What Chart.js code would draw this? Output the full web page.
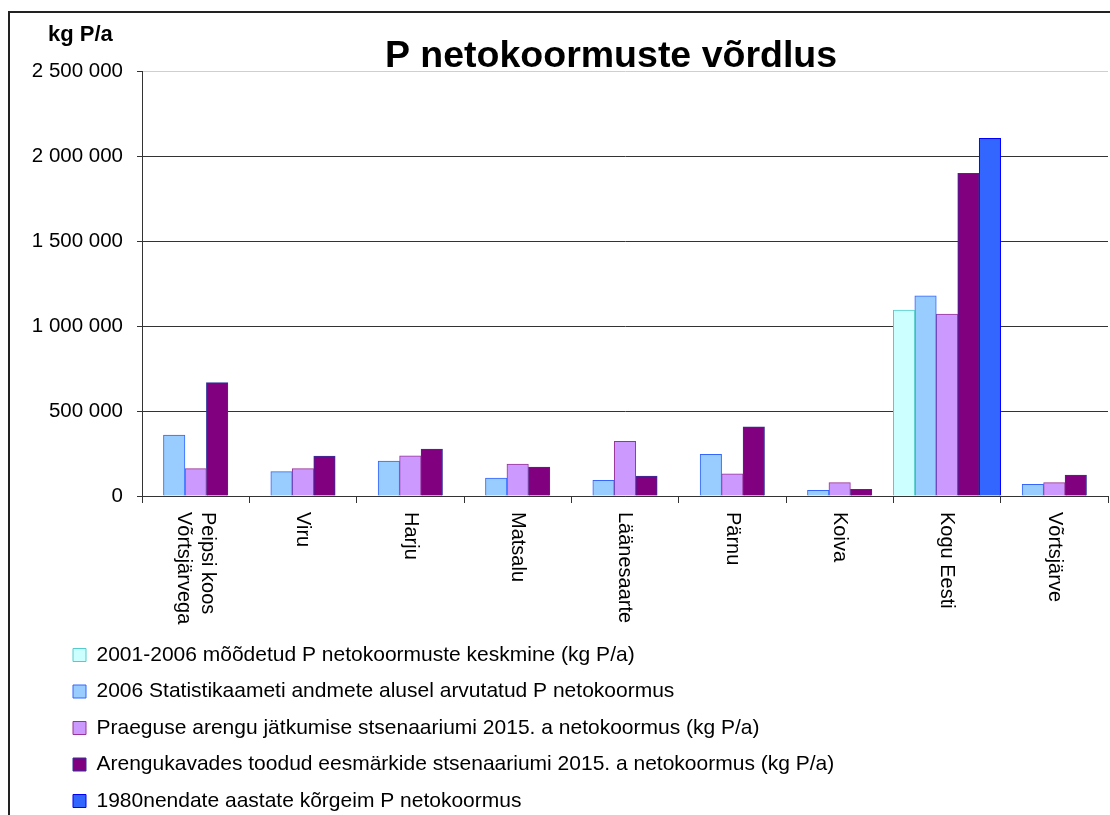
<!DOCTYPE html>
<html>
<head>
<meta charset="utf-8">
<script src="https://cdn.jsdelivr.net/npm/chart.js@4.4.1/dist/chart.umd.min.js"></script>
<style>
  html, body { margin: 0; padding: 0; background: #ffffff; }
  #wrap { width: 1110px; height: 815px; }
</style>
</head>
<body>
<div id="wrap"><canvas id="c" width="1110" height="815"></canvas></div>
<script>
// ---- data ----
const categories = [
  ["Peipsi koos", "Võrtsjärvega"], "Viru", "Harju", "Matsalu", "Läänesaarte",
  "Pärnu", "Koiva", "Kogu Eesti", "Võrtsjärve"
];
const seriesNames = [
  "2001-2006 mõõdetud P netokoormuste keskmine (kg P/a)",
  "2006 Statistikaameti andmete alusel arvutatud P netokoormus",
  "Praeguse arengu jätkumise stsenaariumi 2015. a netokoormus (kg P/a)",
  "Arengukavades toodud eesmärkide stsenaariumi 2015. a netokoormus (kg P/a)",
  "1980nendate aastate kõrgeim P netokoormus"
];
const measured2001to2006 = [null, null, null, null, null, null, null, 1094000, null];
const stat2006 = [359000, 143500, 206000, 106000, 92000, 245000, 33500, 1178000, 68600];
const current2015 = [161000, 161000, 237000, 188000, 322000, 131000, 78400, 1070600, 78400];
const goals2015 = [667000, 235500, 276500, 170600, 117600, 407600, 39400, 1898000, 123500];
const peak1980s = [null, null, null, null, null, null, null, 2104000, null];
const yTickValues = [0, 500000, 1000000, 1500000, 2000000, 2500000];
const titleText = "P netokoormuste võrdlus";
const unitText = "kg P/a";

// ---- styles ----
const FONT = '"Liberation Sans", Arial, Helvetica, sans-serif';
Chart.defaults.font.family = FONT;
Chart.defaults.color = '#000';

const fills = ['#CCFFFF', '#99CCFF', '#CC99FF', '#800080', '#3366FF'];
const borders = ['#55CCCC', '#3366FF', '#993399', '#333399', '#0000FF'];
const seriesData = [measured2001to2006, stat2006, current2015, goals2015, peak1980s];

function fmt(v) {
  return String(v).replace(/\B(?=(\d{3})+(?!\d))/g, ' ');
}

const LEGEND_SHIFT = 37.5;

const decorPlugin = {
  id: 'decor',
  afterLayout(chart) {
    if (chart.legend) {
      chart.legend.left += LEGEND_SHIFT;
    }
  },
  afterDraw(chart) {
    const ctx = chart.ctx;
    const xs = chart.scales.x;
    ctx.save();
    // frame
    ctx.strokeStyle = '#222';
    ctx.lineWidth = 2;
    ctx.beginPath();
    ctx.moveTo(9, 900);
    ctx.lineTo(9, 12);
    ctx.lineTo(1200, 12);
    ctx.stroke();
    // title
    ctx.fillStyle = '#000';
    ctx.font = 'bold 37.5px ' + FONT;
    ctx.textAlign = 'center';
    ctx.textBaseline = 'alphabetic';
    ctx.fillText(titleText, 611, 67);
    // unit label
    ctx.font = 'bold 22px ' + FONT;
    ctx.textAlign = 'left';
    ctx.fillText(unitText, 48, 41);
    // category labels, rotated clockwise
    ctx.font = '20px ' + FONT;
    ctx.textAlign = 'left';
    ctx.textBaseline = 'middle';
    const lh = 24;
    categories.forEach((lab, i) => {
      const lines = Array.isArray(lab) ? lab : [lab];
      const cx = xs.getPixelForValue(i);
      ctx.save();
      ctx.translate(cx, 512);
      ctx.rotate(Math.PI / 2);
      lines.forEach((ln, j) => {
        const off = (j - (lines.length - 1) / 2) * lh;
        ctx.fillText(ln, 0, off);
      });
      ctx.restore();
    });
    ctx.restore();
  }
};

new Chart(document.getElementById('c'), {
  type: 'bar',
  data: {
    labels: categories.map(c => Array.isArray(c) ? c.join(' ') : c),
    datasets: seriesData.map((d, i) => ({
      label: seriesNames[i],
      data: d,
      backgroundColor: fills[i],
      borderColor: borders[i],
      borderWidth: 1,
      categoryPercentage: 1.0,
      barPercentage: 1.0
    }))
  },
  options: {
    responsive: false,
    devicePixelRatio: 1,
    animation: false,
    layout: { padding: { top: 71, left: 20, right: 2, bottom: -6.5 } },
    plugins: {
      title: { display: false },
      tooltip: { enabled: false },
      legend: {
        position: 'bottom',
        align: 'start',
        labels: {
          boxWidth: 13,
          boxHeight: 13,
          padding: 15.5,
          color: '#000',
          font: { size: 21, family: FONT }
        }
      }
    },
    scales: {
      x: {
        offset: true,
        grid: {
          offset: true,
          drawOnChartArea: false,
          drawTicks: true,
          tickLength: 7,
          color: '#333',
          tickColor: '#333'
        },
        border: { display: true, color: '#333', width: 1 },
        ticks: { display: false },
        afterFit(s) { s.height = 133; }
      },
      y: {
        min: 0,
        max: 2500000,
        afterBuildTicks(s) { s.ticks = yTickValues.map(v => ({ value: v })); },
        ticks: {
          padding: 14,
          color: '#000',
          font: { size: 20.5, family: FONT },
          callback: (v) => fmt(v)
        },
        grid: {
          drawTicks: true,
          tickLength: 5,
          color: (c) => (c.tick && c.tick.value === 2500000) ? '#cfcfcf' : '#333',
          tickColor: '#333',
          lineWidth: 1
        },
        border: { display: true, color: '#333', width: 1 },
        afterFit(s) { s.width = 122; }
      }
    }
  },
  plugins: [decorPlugin]
});
</script>
</body>
</html>
